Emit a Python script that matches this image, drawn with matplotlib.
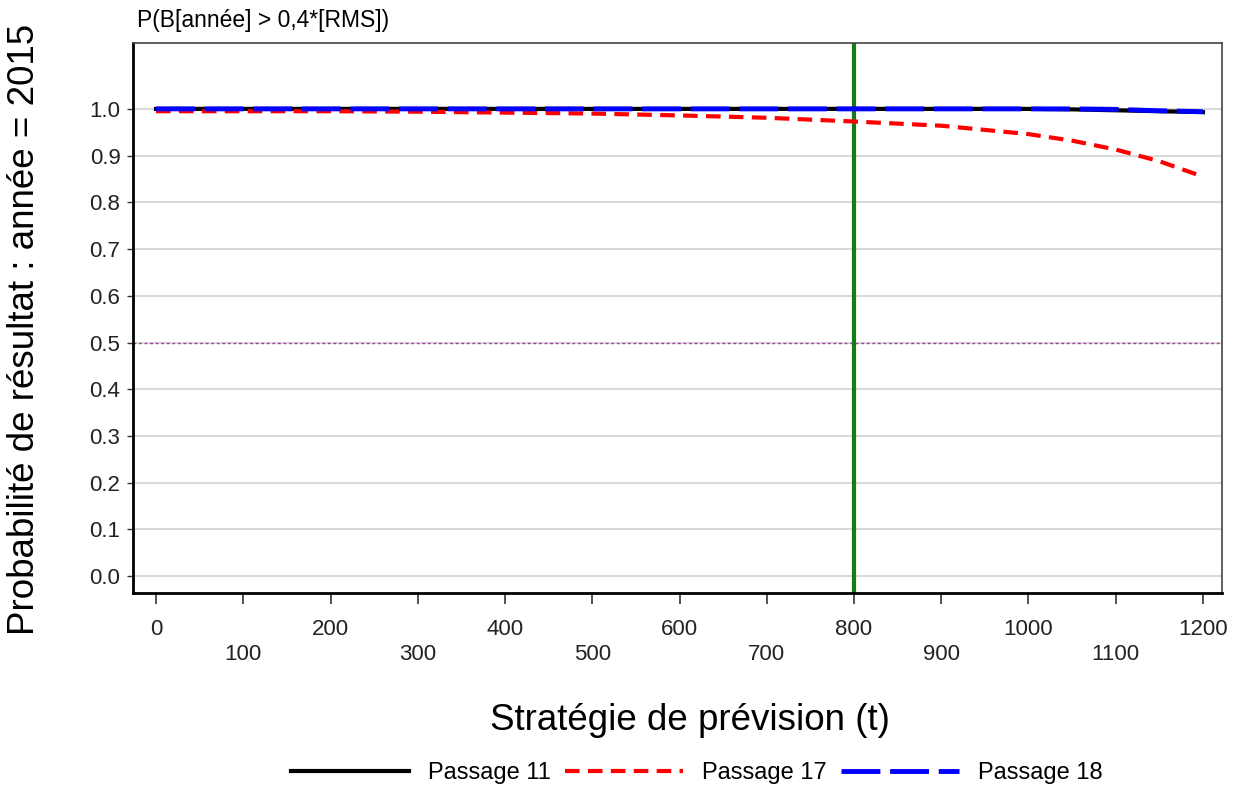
import matplotlib
matplotlib.use("Agg")
import matplotlib.pyplot as plt
import numpy as np

#####################   Data   ##################################
strategy = [0, 100, 200, 300, 400, 500, 600, 700, 800, 900, 1000, 1050, 1100, 1150, 1200]
passage_11 = [1.0, 1.0, 1.0, 1.0, 1.0, 1.0, 1.0, 1.0, 1.0, 1.0, 1.0, 0.999, 0.997, 0.995, 0.993]
passage_17 = [0.995, 0.995, 0.995, 0.994, 0.992, 0.990, 0.986, 0.981, 0.973, 0.964, 0.946, 0.932, 0.913, 0.888, 0.855]
passage_18 = [1.0, 1.0, 1.0, 1.0, 1.0, 1.0, 1.0, 1.0, 1.0, 1.0, 1.0, 1.0, 0.999, 0.996, 0.994]

x_ticks = list(range(0, 1201, 100))
y_ticks = [round(v * 0.1, 1) for v in range(11)]
ref_strategy = 800
threshold = 0.5

plt.rcParams['font.family'] = ['Liberation Sans', 'DejaVu Sans']

fig = plt.figure(figsize=(12.42, 7.88), dpi=100)
ax = fig.add_axes([133 / 1242, 1 - 593 / 788, (1222 - 133) / 1242, (593 - 43) / 788])

################# GRID ##############
for y in y_ticks:
    ax.axhline(y, color='#d9d9d9', lw=1.5, zorder=0)

ax.axhline(threshold, color='#a040a0', lw=1, ls=(0, (2, 2)), zorder=1)
ax.axvline(ref_strategy, color='#1a7a1a', lw=3, zorder=2)

################# SERIES ##############
l11, = ax.plot(strategy, passage_11, color='black', lw=3, label='Passage 11', zorder=3)
l17, = ax.plot(strategy, passage_17, color='#ff0000', lw=3, ls=(0, (3.5, 2)), label='Passage 17', zorder=4)
l18, = ax.plot(strategy, passage_18, color='#0000ff', lw=3.5, ls=(0, (8, 2)), label='Passage 18', zorder=5)

ax.set_xlim(-26.4, 1221.8)
ax.set_ylim(-0.036, 1.141)

ax.set_xticks(x_ticks)
ax.set_xticklabels([str(v) if i % 2 == 0 else '\n' + str(v) for i, v in enumerate(x_ticks)],
                   fontsize=16, color='#222222', linespacing=1.25)
ax.set_yticks(y_ticks)
ax.set_yticklabels(['%.1f' % v for v in y_ticks], fontsize=16, color='#222222')
ax.tick_params(axis='x', length=8, width=1.2, pad=11, color='#333333')
ax.tick_params(axis='y', length=4, width=1, pad=5, color='#333333')

for s in ['left', 'bottom']:
    ax.spines[s].set_linewidth(2)
    ax.spines[s].set_color('black')
for s in ['top', 'right']:
    ax.spines[s].set_linewidth(1.2)
    ax.spines[s].set_color('#444444')

ax.set_xlabel('Stratégie de prévision (t)', fontsize=26.5)
ax.xaxis.set_label_coords((690 - 133) / (1222 - 133), (593 - 720) / (593 - 43), transform=ax.transAxes)
ax.xaxis.label.set_va('center')
ax.set_ylabel('Probabilité de résultat : année = 2015', fontsize=26.5)
ax.yaxis.set_label_coords((25 - 133) / (1222 - 133), (593 - 329) / (593 - 43), transform=ax.transAxes)
ax.yaxis.label.set_va('center')
fig.text(137 / 1242, 1 - 20 / 788, 'P(B[année] > 0,4*[RMS])', fontsize=16.5, va='center', ha='left')

fig.legend(handles=[l11, l17, l18], loc='center', bbox_to_anchor=(697 / 1242, 1 - 773 / 788),
           ncol=3, frameon=False, fontsize=17, handlelength=5, columnspacing=0.6, handletextpad=0.8)

fig.savefig('out.png', dpi=100)
